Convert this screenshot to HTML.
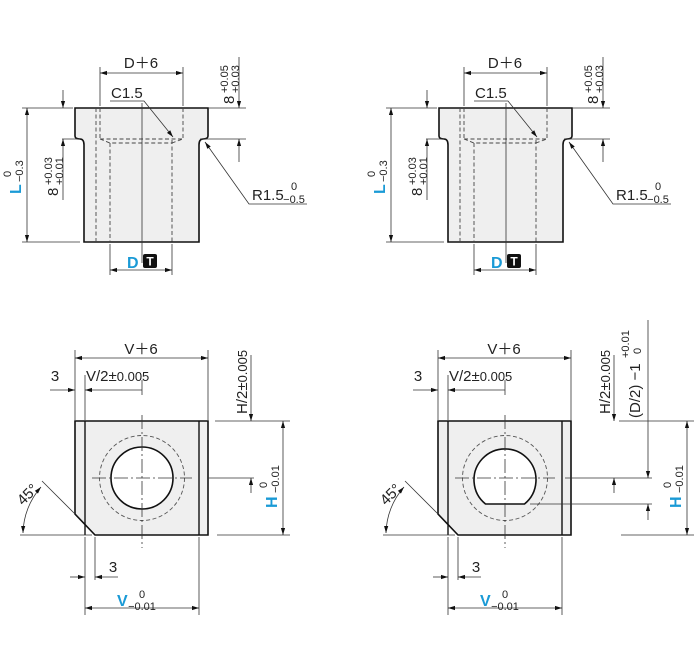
<!DOCTYPE html>
<html><head><meta charset="utf-8"><style>
html,body{margin:0;padding:0;background:#fff}
svg{display:block}
text{font-family:"Liberation Sans",Arial,sans-serif;fill:#222}
.t{font-size:15px}
.s{font-size:11px}
.b{fill:#1a9ad6;font-weight:bold;font-size:16px}
</style></head><body>
<svg width="700" height="648" viewBox="0 0 700 648" xmlns="http://www.w3.org/2000/svg">
<defs>
<marker id="a" viewBox="0 0 10 10" refX="10" refY="5" markerWidth="7" markerHeight="7" orient="auto-start-reverse" markerUnits="userSpaceOnUse"><path d="M0,2 L10,5 L0,8 z" fill="#111"/></marker>
<g id="top">
  <path d="M75,108 H208 V136 Q208,139 203,139 Q199,139 199,145 V242 H84 V145 Q84,139 80,139 Q75,139 75,136 Z" fill="#efefef" stroke="#111" stroke-width="1.6"/>
  <g stroke="#444" stroke-width="0.9" stroke-dasharray="4,2.5" fill="none">
    <line x1="96" y1="108" x2="96" y2="242"/>
    <line x1="100" y1="108" x2="100" y2="139"/>
    <line x1="183" y1="108" x2="183" y2="139"/>
    <path d="M100,139 H183 L172,143 M100,139 L110,143 H172"/>
    <line x1="110" y1="143" x2="110" y2="242"/>
    <line x1="172" y1="140" x2="172" y2="242"/>
  </g>
  <line x1="142" y1="103" x2="142" y2="263" stroke="#333" stroke-width="0.8"/>
  <g stroke="#333" stroke-width="0.8" fill="none">
    <line x1="100" y1="67" x2="100" y2="106"/><line x1="183" y1="67" x2="183" y2="106"/>
    <line x1="100" y1="73" x2="183" y2="73" marker-start="url(#a)" marker-end="url(#a)"/>
    <path d="M110,101 H144 L173,137" marker-end="url(#a)"/>
    <line x1="208" y1="108" x2="246" y2="108"/><line x1="200" y1="139" x2="246" y2="139"/>
    <line x1="239" y1="57" x2="239" y2="108" marker-end="url(#a)"/>
    <line x1="239" y1="162" x2="239" y2="139" marker-end="url(#a)"/>
    <path d="M307,204 H249 L205,142" marker-end="url(#a)"/>
    <line x1="22" y1="108" x2="73" y2="108"/><line x1="22" y1="242" x2="80" y2="242"/>
    <line x1="27" y1="108" x2="27" y2="242" marker-start="url(#a)" marker-end="url(#a)"/>
    <line x1="62" y1="139" x2="80" y2="139"/>
    <line x1="63" y1="90" x2="63" y2="108" marker-end="url(#a)"/>
    <line x1="63" y1="200" x2="63" y2="139" marker-end="url(#a)"/>
    <line x1="110" y1="244" x2="110" y2="275"/><line x1="172" y1="244" x2="172" y2="275"/>
    <line x1="110" y1="270" x2="172" y2="270" marker-start="url(#a)" marker-end="url(#a)"/>
  </g>
  <text class="t" x="141" y="68" text-anchor="middle">D＋6</text>
  <text class="t" x="111" y="98">C1.5</text>
  <text class="t" x="252" y="200">R1.5</text>
  <text class="s" x="294" y="190" text-anchor="middle">0</text>
  <text class="s" x="294" y="203" text-anchor="middle">−0.5</text>
  <g transform="translate(234,82) rotate(-90)"><text class="t" x="-22" y="0">8</text><text class="s" x="-11" y="-6">+0.05</text><text class="s" x="-11" y="5">+0.03</text></g>
  <g transform="translate(58,172) rotate(-90)"><text class="t" x="-24" y="0">8</text><text class="s" x="-13" y="-6">+0.03</text><text class="s" x="-13" y="5">+0.01</text></g>
  <g transform="translate(21,180) rotate(-90)"><text class="b" x="-14" y="0">L</text><text class="s" x="3" y="-10">0</text><text class="s" x="-2" y="2">−0.3</text></g>
  <text class="b" x="127" y="268">D</text>
  <rect x="143" y="254" width="14" height="14" rx="2" fill="#111"/>
  <text x="150" y="265.5" text-anchor="middle" style="font-size:12px;font-weight:bold;fill:#fff">T</text>
</g>
<g id="botcommon">
  <g stroke="#333" stroke-width="0.8" fill="none">
    <line x1="75" y1="350" x2="75" y2="420"/><line x1="208" y1="350" x2="208" y2="420"/>
    <line x1="75" y1="358" x2="208" y2="358" marker-start="url(#a)" marker-end="url(#a)"/>
    <line x1="85" y1="375" x2="85" y2="420"/>
    <line x1="50" y1="390" x2="75" y2="390" marker-end="url(#a)"/>
    <line x1="142" y1="390" x2="85" y2="390" marker-end="url(#a)"/>
    <line x1="142" y1="380" x2="142" y2="395"/>
    <line x1="142" y1="415" x2="142" y2="548" stroke-dasharray="14,3,2,3"/>
    <line x1="75" y1="514" x2="42" y2="481"/>
    <line x1="20" y1="535" x2="92" y2="535"/>
    <path d="M41,487 A72,72 0 0 0 23,533" marker-start="url(#a)" marker-end="url(#a)"/>
    <line x1="85" y1="537" x2="85" y2="615"/><line x1="95" y1="537" x2="95" y2="580"/>
    <line x1="70" y1="577" x2="85" y2="577" marker-end="url(#a)"/>
    <line x1="118" y1="577" x2="95" y2="577" marker-end="url(#a)"/>
    <line x1="199" y1="537" x2="199" y2="615"/>
    <line x1="85" y1="608" x2="199" y2="608" marker-start="url(#a)" marker-end="url(#a)"/>
    <line x1="251" y1="355" x2="251" y2="421" marker-end="url(#a)"/>
    <line x1="251" y1="493" x2="251" y2="478" marker-end="url(#a)"/>
  </g>
  <text class="t" x="141" y="354" text-anchor="middle">V＋6</text>
  <text class="t" x="55" y="381" text-anchor="middle">3</text>
  <text class="t" x="86" y="381">V/2±<tspan style="font-size:13px">0.005</tspan></text>
  <text class="t" x="113" y="572" text-anchor="middle">3</text>
  <text class="b" x="117" y="606">V</text>
  <text class="s" x="142" y="598" text-anchor="middle">0</text>
  <text class="s" x="142" y="610" text-anchor="middle">−0.01</text>
  <g transform="translate(247,414) rotate(-90)"><text class="t" x="0" y="0">H/2±<tspan style="font-size:13px">0.005</tspan></text></g>
  <g transform="translate(23,506) rotate(-45)"><text class="t" x="0" y="0">45°</text></g>
</g>
<g id="hdim">
  <g stroke="#333" stroke-width="0.8" fill="none">
    <line x1="-68" y1="421" x2="7" y2="421"/><line x1="-66" y1="535" x2="7" y2="535"/>
    <line x1="0" y1="421" x2="0" y2="535" marker-start="url(#a)" marker-end="url(#a)"/>
  </g>
  <g transform="translate(-6,508) rotate(-90)"><text class="b" x="0" y="0">H</text><text class="s" x="20" y="-10">0</text><text class="s" x="15" y="2">−0.01</text></g>
</g>
</defs>

<use href="#top"/>
<use href="#top" transform="translate(364,0)"/>

<!-- bottom left -->
<path d="M75,421 H208 V535 H95 L75,514 Z" fill="#efefef" stroke="#111" stroke-width="1.6"/>
<line x1="85" y1="421" x2="85" y2="535" stroke="#111" stroke-width="1.4"/>
<line x1="199" y1="421" x2="199" y2="535" stroke="#111" stroke-width="1.4"/>
<circle cx="142" cy="478" r="42.5" fill="none" stroke="#555" stroke-width="0.9" stroke-dasharray="4,2.5"/>
<circle cx="142" cy="478" r="31" fill="#fff" stroke="#111" stroke-width="1.6"/>
<line x1="92" y1="478" x2="192" y2="478" stroke="#333" stroke-width="0.8" stroke-dasharray="14,3,2,3"/>
<line x1="208" y1="478" x2="254" y2="478" stroke="#333" stroke-width="0.8"/>
<use href="#botcommon"/>
<use href="#hdim" transform="translate(283,0)"/>

<!-- bottom right -->
<path d="M438,421 H571 V535 H458 L438,514 Z" fill="#efefef" stroke="#111" stroke-width="1.6"/>
<line x1="448" y1="421" x2="448" y2="535" stroke="#111" stroke-width="1.4"/>
<line x1="562" y1="421" x2="562" y2="535" stroke="#111" stroke-width="1.4"/>
<circle cx="505" cy="478" r="42.5" fill="none" stroke="#555" stroke-width="0.9" stroke-dasharray="4,2.5"/>
<path d="M485.5,504 A31,31 0 1 1 524.5,504 Z" fill="#fff" stroke="#111" stroke-width="1.6"/>
<line x1="455" y1="478" x2="555" y2="478" stroke="#333" stroke-width="0.8" stroke-dasharray="14,3,2,3"/>
<g stroke="#333" stroke-width="0.8">
<line x1="565" y1="478" x2="652" y2="478"/>
<line x1="530" y1="504" x2="652" y2="504"/>
<line x1="648" y1="320" x2="648" y2="478" marker-end="url(#a)"/>
<line x1="648" y1="520" x2="648" y2="504" marker-end="url(#a)"/>
</g>
<g transform="translate(640,418) rotate(-90)"><text class="t" x="0" y="0">(D/2) −1</text><text class="s" x="60" y="-11">+0.01</text><text class="s" x="64" y="1">0</text></g>
<use href="#botcommon" transform="translate(363,0)"/>
<use href="#hdim" transform="translate(687,0)"/>
</svg>
</body></html>
